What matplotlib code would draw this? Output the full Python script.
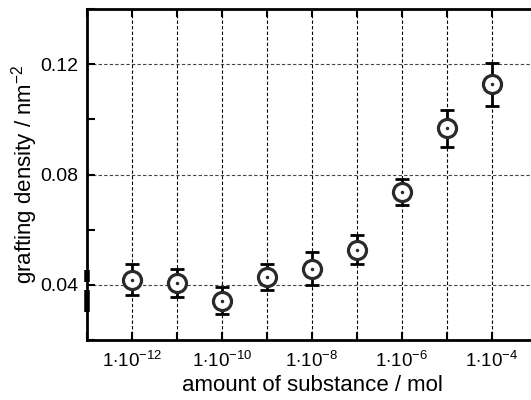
import numpy as np
import matplotlib.pyplot as plt
from matplotlib.ticker import FixedLocator, MultipleLocator, NullFormatter

plt.rcParams["font.family"] = ["Liberation Sans", "DejaVu Sans"]
plt.rcParams["mathtext.fontset"] = "custom"
plt.rcParams["mathtext.rm"] = "Liberation Sans"
plt.rcParams["mathtext.it"] = "Liberation Sans:italic"

# amount of substance (mol) and measured grafting density (nm^-2)
amount = [1e-12, 1e-11, 1e-10, 1e-9, 1e-8, 1e-7, 1e-6, 1e-5, 1e-4]
density = [0.0418, 0.0407, 0.0342, 0.0429, 0.0458, 0.0527, 0.0737, 0.0968, 0.1128]
density_err = [0.0056, 0.0051, 0.0049, 0.0047, 0.0060, 0.0052, 0.0046, 0.0067, 0.0078]

major_x = [1e-12, 1e-10, 1e-8, 1e-6, 1e-4]
major_x_labels = [r"1$\cdot$10$^{-12}$", r"1$\cdot$10$^{-10}$", r"1$\cdot$10$^{-8}$",
                  r"1$\cdot$10$^{-6}$", r"1$\cdot$10$^{-4}$"]
decades = [1e-13, 1e-12, 1e-11, 1e-10, 1e-9, 1e-8, 1e-7, 1e-6, 1e-5, 1e-4, 1e-3]
y_ticks = [0.04, 0.08, 0.12]

fig = plt.figure(figsize=(5.31, 4.0), dpi=100)
# the frame runs past the right edge of the figure
ax = fig.add_axes([87 / 531, 60 / 400, 450 / 531, 331 / 400])

ax.errorbar(amount, density, yerr=density_err, fmt="none", ecolor="black",
            elinewidth=2.0, capsize=5, capthick=2.0, zorder=3)
ax.plot(amount, density, "o", ms=13, mfc="white", mec="#2a2a2a", mew=2.3, zorder=4)
ax.plot(amount, density, ".", ms=3, color="#2a2a2a", zorder=5)

ax.set_xscale("log")
ax.set_xlim(1e-13, 1e-3)
ax.set_ylim(0.02, 0.14)

ax.xaxis.set_major_locator(FixedLocator(major_x))
ax.set_xticklabels(major_x_labels)
ax.xaxis.set_minor_locator(FixedLocator(decades))
ax.xaxis.set_minor_formatter(NullFormatter())
ax.yaxis.set_major_locator(FixedLocator(y_ticks))
ax.set_yticklabels(["0.04", "0.08", "0.12"])
ax.yaxis.set_minor_locator(MultipleLocator(0.02))

ax.tick_params(which="both", direction="in", top=True, right=False,
               color="black", width=1.5)
ax.tick_params(axis="x", labelsize=13.5, pad=8)
ax.tick_params(axis="y", labelsize=14, pad=6)
ax.tick_params(which="major", length=6)
ax.tick_params(which="minor", length=6)

for x in decades[1:-1]:
    ax.axvline(x, color="black", ls=(0, (3, 2)), lw=0.8, zorder=1)
for y in y_ticks:
    ax.axhline(y, color="#444444", ls=(0, (3, 2)), lw=0.8, zorder=1)

for side in ["left", "bottom", "top"]:
    ax.spines[side].set_linewidth(2.0)
ax.spines["right"].set_visible(False)

# thick marks on the left spine
ax.plot([0, 0], [0.175, 0.21], transform=ax.transAxes, color="black",
        lw=4, clip_on=False, solid_capstyle="butt", zorder=6)
ax.plot([0, 0], [0.085, 0.15], transform=ax.transAxes, color="black",
        lw=4, clip_on=False, solid_capstyle="butt", zorder=6)

ax.set_xlabel("amount of substance / mol", fontsize=16, labelpad=3)
ax.set_ylabel(r"grafting density / nm$^{-2}$", fontsize=16, labelpad=0.5)

fig.savefig("out.png", dpi=100)
